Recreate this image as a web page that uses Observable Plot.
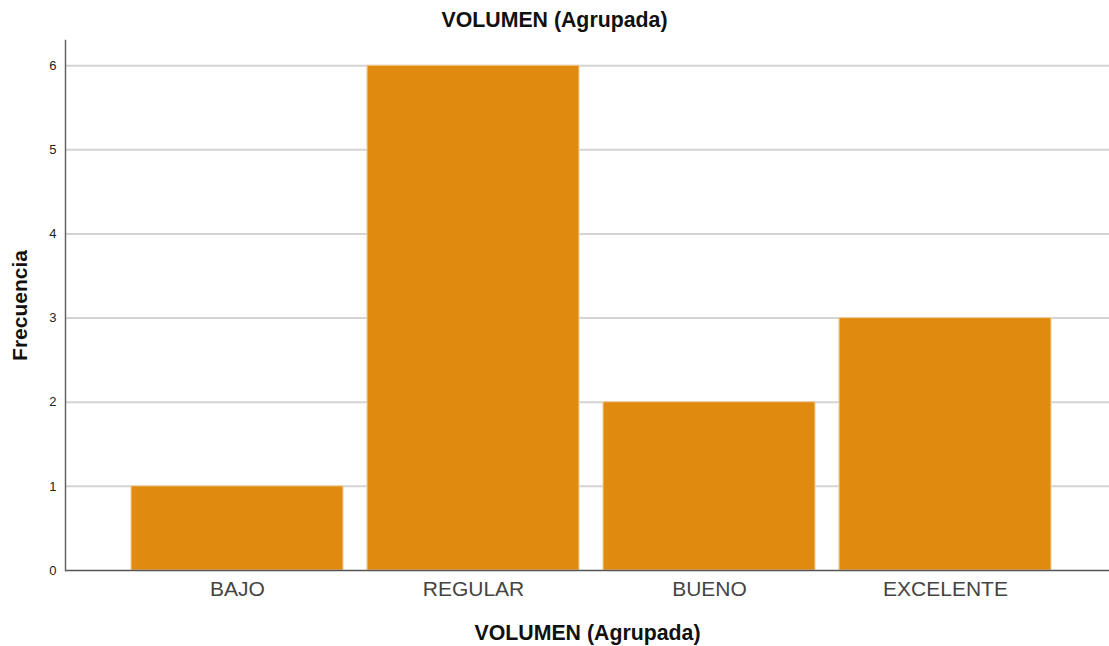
<!DOCTYPE html>
<html>
<head>
<meta charset="utf-8">
<script src="https://cdn.jsdelivr.net/npm/d3@7"></script>
<script src="https://cdn.jsdelivr.net/npm/@observablehq/plot@0.6"></script>
<style>
  body { margin: 0; background: #fff; font-family: "Liberation Sans", Arial, sans-serif; }
  #wrap { position: relative; width: 1109px; height: 646px; }
  #title { position: absolute; top: 8px; left: 0; width: 1109px; text-align: center;
           font-weight: bold; font-size: 21.3px; color: #111; z-index: 2; }
  #wrap svg { position: absolute; top: 0; left: 0; z-index: 1; }
</style>
</head>
<body>
<div id="wrap"><div id="title">VOLUMEN (Agrupada)</div></div>
<script>
const categories = ["BAJO", "REGULAR", "BUENO", "EXCELENTE"];
const frequencies = [1, 6, 2, 3];
const yTicks = [0, 1, 2, 3, 4, 5, 6];
const gridValues = [1, 2, 3, 4, 5, 6];

const data = categories.map((c, i) => ({cat: c, freq: frequencies[i]}));

const chart = Plot.plot({
  width: 1109,
  height: 646,
  marginLeft: 65,
  marginRight: 0,
  marginTop: 40,
  marginBottom: 76,
  style: {fontFamily: "Liberation Sans, Arial, sans-serif", background: "transparent"},
  x: {domain: categories, paddingInner: 0.1, paddingOuter: 0.26, align: 0.53, label: null},
  y: {domain: [0, 6.3], label: null},
  marks: [
    Plot.ruleY(gridValues, {stroke: "#d4d4d4", strokeWidth: 2}),
    Plot.barY(data, {x: "cat", y: "freq", fill: "#e08a10", stroke: "#f2cf9c", strokeWidth: 1}),
    Plot.ruleY([0], {stroke: "#555", strokeWidth: 1.5}),
    Plot.frame({anchor: "left", stroke: "#666", strokeWidth: 1.5}),
    Plot.axisY(yTicks, {tickSize: 0, tickPadding: 9, fontSize: 13, color: "#222", tickFormat: d3.format("d"), label: null}),
    Plot.axisX({tickSize: 0, tickPadding: 11, fontSize: 21, color: "#444", label: null}),
    Plot.text(["VOLUMEN (Agrupada)"], {frameAnchor: "bottom", dy: 69, fontSize: 21.3, fontWeight: "bold", fill: "#111"}),
    Plot.text(["Frecuencia"], {frameAnchor: "left", dx: -45, rotate: -90, textAnchor: "middle", fontSize: 21, fontWeight: "bold", fill: "#111"})
  ]
});
document.getElementById("wrap").appendChild(chart);
</script>
</body>
</html>
